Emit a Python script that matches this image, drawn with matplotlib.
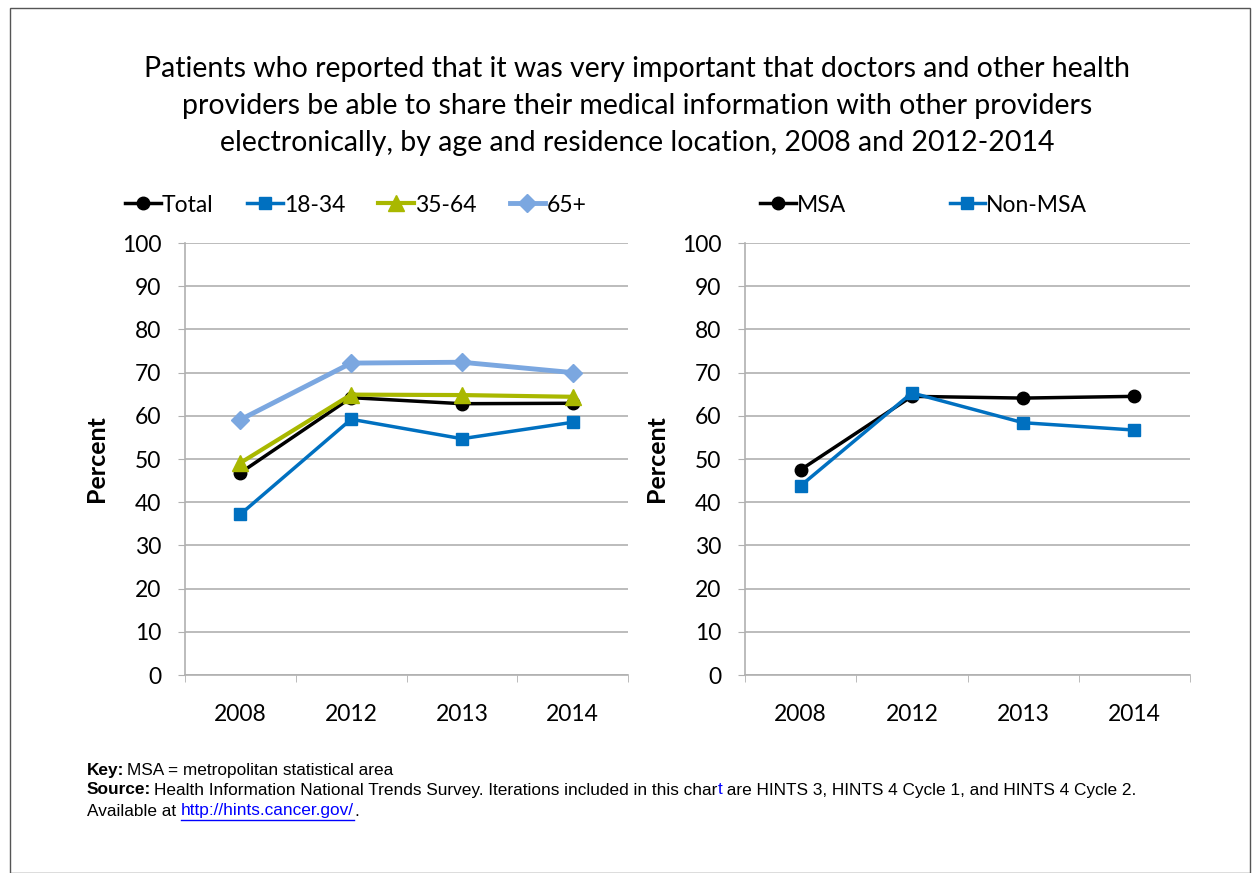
import matplotlib
matplotlib.use('Agg')
import matplotlib.pyplot as plt
from matplotlib.patches import Rectangle

# Chart data
years = ['2008', '2012', '2013', '2014']
total = [46.8, 64.2, 62.8, 62.9]
age_18_34 = [37.2, 59.2, 54.7, 58.5]
age_35_64 = [49.1, 64.9, 64.8, 64.4]
age_65_plus = [59.1, 72.2, 72.4, 70.0]
msa = [47.5, 64.5, 64.1, 64.5]
non_msa = [43.8, 65.3, 58.4, 56.7]

TITLE = ('Patients who reported that it was very important that doctors and other health\n'
         'providers be able to share their medical information with other providers\n'
         'electronically, by age and residence location, 2008 and 2012-2014')

MAIN_FONT = ['Lato', 'DejaVu Sans']
NOTE_FONT = ['Liberation Sans', 'DejaVu Sans']
GRID_COLOR = '#B0B0B0'
LABEL_SIZE = 16.5

plt.rcParams['font.family'] = MAIN_FONT

fig = plt.figure(figsize=(12.52, 8.73), dpi=100)

# outer frame like the original slide
fig.patches.append(Rectangle((10 / 1252, 0), 1240 / 1252, 1 - 8 / 873, transform=fig.transFigure,
                             fill=False, edgecolor='#555555', linewidth=1))

fig.text(0.509, 1 - 106 / 873, TITLE, ha='center', va='center', fontsize=20.5, linespacing=1.5)


def style_axes(ax):
    x = range(len(years))
    ax.set_xlim(-0.5, len(years) - 0.5)
    ax.set_ylim(0, 100)
    ax.set_yticks(range(0, 101, 10))
    ax.set_xticks(x)
    ax.set_xticklabels(years)
    ax.set_xticks([i - 0.5 for i in range(len(years) + 1)], minor=True)
    ax.tick_params(axis='x', which='major', length=0, pad=21, labelsize=LABEL_SIZE)
    ax.tick_params(axis='x', which='minor', length=5, color=GRID_COLOR)
    ax.tick_params(axis='y', length=5, color=GRID_COLOR, labelsize=LABEL_SIZE, pad=12)
    ax.grid(axis='y', color=GRID_COLOR, linewidth=1.2)
    ax.set_axisbelow(True)
    for s in ['top', 'right']:
        ax.spines[s].set_visible(False)
    for s in ['left', 'bottom']:
        ax.spines[s].set_color(GRID_COLOR)
        ax.spines[s].set_linewidth(1.2)
    ax.set_ylabel('Percent', fontsize=18, fontweight='bold', labelpad=10)


x = list(range(len(years)))

ax1 = fig.add_axes([185 / 1252, 1 - 675 / 873, 443 / 1252, 432 / 873])
style_axes(ax1)
ax1.plot(x, age_65_plus, color='#7BA7E0', lw=3.5, marker='D', ms=9, label='65+', zorder=3)
ax1.plot(x, total, color='black', lw=2.5, marker='o', ms=9, label='Total', zorder=4)
ax1.plot(x, age_35_64, color='#A9B800', lw=3, marker='^', ms=11, label='35-64', zorder=5)
ax1.plot(x, age_18_34, color='#0070C0', lw=2.5, marker='s', ms=9, label='18-34', zorder=6)

h, l = ax1.get_legend_handles_labels()
order = [l.index(n) for n in ['Total', '18-34', '35-64', '65+']]
fig.legend([h[i] for i in order], [l[i] for i in order], loc='center left',
           bbox_to_anchor=(114 / 1252, 1 - 205 / 873), ncol=4, frameon=False, fontsize=LABEL_SIZE,
           handlelength=1.55, handletextpad=0.05, columnspacing=1.45, borderpad=0)

ax2 = fig.add_axes([745 / 1252, 1 - 675 / 873, 445 / 1252, 432 / 873])
style_axes(ax2)
ax2.plot(x, msa, color='black', lw=2.5, marker='o', ms=9, label='MSA', zorder=4)
ax2.plot(x, non_msa, color='#0070C0', lw=2.5, marker='s', ms=9, label='Non-MSA', zorder=5)
fig.legend(*ax2.get_legend_handles_labels(), loc='center left',
           bbox_to_anchor=(749 / 1252, 1 - 205 / 873), ncol=2, frameon=False, fontsize=LABEL_SIZE,
           handlelength=1.55, handletextpad=0.05, columnspacing=4.5, borderpad=0)

# footnotes
fs = 12.4
y1, y2, y3 = 1 - 770 / 873, 1 - 790 / 873, 1 - 811 / 873
fig.canvas.draw()
r = fig.canvas.get_renderer()


def put(xpx, y, s, **kw):
    t = fig.text(xpx / 1252, y, s, fontsize=fs, family=NOTE_FONT, va='center', **kw)
    bb = t.get_window_extent(renderer=r)
    return t, bb


_, bb = put(87, y1, 'Key:', fontweight='bold')
put(bb.x1 + 3, y1, 'MSA = metropolitan statistical area')
_, bb = put(87, y2, 'Source:', fontweight='bold')
_, bb = put(bb.x1 + 3, y2, 'Health Information National Trends Survey. Iterations included in this char')
_, bb = put(bb.x1, y2, 't', color='#0000FF')
put(bb.x1, y2, ' are HINTS 3, HINTS 4 Cycle 1, and HINTS 4 Cycle 2.')
_, bb = put(87, y3, 'Available at ')
_, bl = put(bb.x1, y3, 'http://hints.cancer.gov/', color='#0000FF')
put(bl.x1, y3, '.')
fig.add_artist(plt.Line2D([bl.x0 / 1252, bl.x1 / 1252], [(bl.y0 - 1) / 873] * 2,
                          transform=fig.transFigure, color='#0000FF', lw=1))

fig.savefig('out.png', dpi=100)
